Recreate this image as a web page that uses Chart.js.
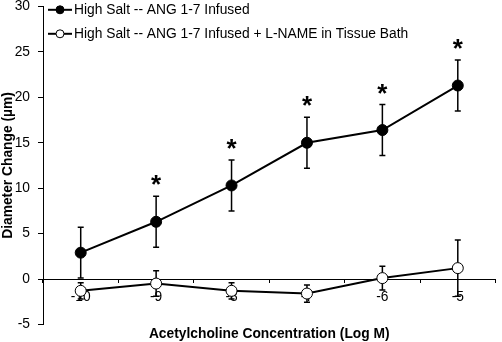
<!DOCTYPE html>
<html>
<head>
<meta charset="utf-8">
<script src="https://cdn.jsdelivr.net/npm/chart.js@4"></script>
<style>
  html, body { margin: 0; padding: 0; background: #fff; }
  #wrap { width: 502px; height: 342px; }
</style>
</head>
<body>
<div id="wrap"><canvas id="grafico"></canvas></div>
<script>
// valores
var concentracoes = ['-10', '-9', '-8', '-7', '-6', '-5'];
var angMedia = [2.9, 6.3, 10.3, 15.0, 16.4, 21.3];
var angErro = [2.8, 2.8, 2.8, 2.8, 2.8, 2.8];
var lnameMedia = [-1.3, -0.5, -1.3, -1.6, 0.1, 1.2];
var lnameErro = [0.9, 1.4, 0.9, 0.95, 1.3, 3.1];
var significativo = [false, true, true, true, true, true];
var yTicks = [-5, 0, 5, 10, 15, 20, 25, 30];

var fonte = '"Liberation Sans", Arial, sans-serif';
Chart.defaults.font.family = fonte;
Chart.defaults.font.size = 13.8;
Chart.defaults.color = '#000';

// barras de erro (SEM)
var barrasErro = {
  id: 'barrasErro',
  beforeDatasetsDraw: function (chart) {
    var ctx = chart.ctx, x = chart.scales.x, y = chart.scales.y;
    ctx.save();
    ctx.strokeStyle = '#000';
    ctx.lineWidth = 1.5;
    chart.data.datasets.forEach(function (ds) {
      ds.data.forEach(function (v, i) {
        var px = x.getPixelForValue(i);
        var top = y.getPixelForValue(v + ds.erro[i]);
        var bot = y.getPixelForValue(v - ds.erro[i]);
        ctx.beginPath();
        ctx.moveTo(px, top); ctx.lineTo(px, bot);
        ctx.moveTo(px - 3, top); ctx.lineTo(px + 3, top);
        ctx.moveTo(px - 3, bot); ctx.lineTo(px + 3, bot);
        ctx.stroke();
      });
    });
    ctx.restore();
  }
};

// asteriscos de significancia
var asteriscos = {
  id: 'asteriscos',
  afterDatasetsDraw: function (chart) {
    var ctx = chart.ctx, x = chart.scales.x, y = chart.scales.y;
    var ds = chart.data.datasets[0];
    ctx.save();
    ctx.font = 'bold 26px ' + fonte;
    ctx.textAlign = 'center';
    ctx.textBaseline = 'alphabetic';
    ctx.fillStyle = '#000';
    significativo.forEach(function (s, i) {
      if (!s) return;
      ctx.fillText('*', x.getPixelForValue(i), y.getPixelForValue(ds.data[i] + ds.erro[i]) - 3);
    });
    ctx.restore();
  }
};

// legenda com linha + marcador
var legenda = {
  id: 'legenda',
  afterDraw: function (chart) {
    var ctx = chart.ctx, a = chart.chartArea;
    ctx.save();
    ctx.font = '13.8px ' + fonte;
    ctx.textBaseline = 'middle';
    chart.data.datasets.forEach(function (ds, i) {
      var yy = a.top + 3.3 + i * 24;
      var x0 = a.left + 5;
      ctx.strokeStyle = '#000';
      ctx.lineWidth = 2;
      ctx.beginPath(); ctx.moveTo(x0, yy); ctx.lineTo(x0 + 24, yy); ctx.stroke();
      ctx.beginPath(); ctx.arc(x0 + 12, yy, 4, 0, Math.PI * 2);
      ctx.fillStyle = ds.pointBackgroundColor; ctx.fill();
      ctx.lineWidth = 1; ctx.stroke();
      ctx.fillStyle = '#000';
      ctx.fillText(ds.label, x0 + 26, yy + 0.5);
    });
    ctx.restore();
  }
};

new Chart(document.getElementById('grafico'), {
  type: 'line',
  data: {
    labels: concentracoes,
    datasets: [
      {
        label: 'High Salt -- ANG 1-7 Infused',
        data: angMedia,
        erro: angErro,
        borderColor: '#000',
        borderWidth: 2,
        pointBackgroundColor: '#000',
        pointBorderColor: '#000',
        pointBorderWidth: 1,
        pointRadius: 5.5,
        tension: 0
      },
      {
        label: 'High Salt -- ANG 1-7 Infused + L-NAME in Tissue Bath',
        data: lnameMedia,
        erro: lnameErro,
        borderColor: '#000',
        borderWidth: 2,
        pointBackgroundColor: '#fff',
        pointBorderColor: '#000',
        pointBorderWidth: 1,
        pointRadius: 5.5,
        tension: 0
      }
    ]
  },
  options: {
    animation: false,
    responsive: true,
    maintainAspectRatio: false,
    layout: { padding: { top: 5, right: 3, left: 0, bottom: 0 } },
    plugins: {
      legend: { display: false },
      tooltip: { enabled: false },
      title: {
        display: true,
        position: 'bottom',
        fullSize: false,
        text: 'Acetylcholine Concentration (Log M)',
        color: '#000',
        font: { size: 13.8, weight: 'bold' },
        padding: { top: 1, bottom: 0 }
      }
    },
    scales: {
      x: {
        type: 'category',
        offset: true,
        position: { y: 0 },
        z: 1,
        border: { display: false },
        grid: { offset: true, drawOnChartArea: false, tickLength: 4, tickColor: '#000' },
        ticks: { padding: 6, color: '#000', maxRotation: 0, autoSkip: false },
        afterFit: function (s) { s.height = 0; s.paddingLeft = 0; s.paddingRight = 0; }
      },
      y: {
        min: -5,
        max: 30,
        position: 'left',
        border: { display: true, color: '#000', width: 1 },
        grid: {
          drawOnChartArea: true,
          color: function (c) { return c.tick && c.tick.value === 0 ? '#000' : 'rgba(0,0,0,0)'; },
          tickColor: '#000',
          tickLength: 5
        },
        ticks: { padding: 8, color: '#000' },
        afterBuildTicks: function (s) { s.ticks = yTicks.map(function (v) { return { value: v }; }); },
        title: {
          display: true,
          text: 'Diameter Change (µm)',
          color: '#000',
          font: { size: 13.8, weight: 'bold' },
          padding: 0
        },
        afterFit: function (s) { s.width = 43; s.paddingTop = 0; s.paddingBottom = 0; }
      }
    }
  },
  plugins: [barrasErro, asteriscos, legenda]
});
</script>
</body>
</html>
